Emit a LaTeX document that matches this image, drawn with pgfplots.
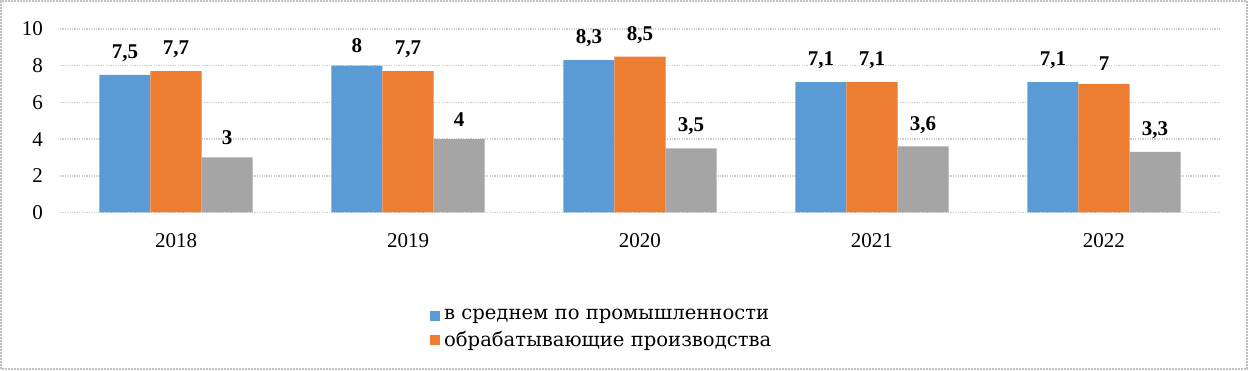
\documentclass[border=0pt]{standalone}
\usepackage{fontspec}
\setmainfont{Liberation Serif}
\newfontfamily\legfont{DejaVu Serif}
\usepackage{pgfplots}
\pgfplotsset{compat=1.18}
\definecolor{cblue}{HTML}{5B9BD5}
\definecolor{corange}{HTML}{ED7D31}
\definecolor{cgray}{HTML}{A5A5A5}
\begin{document}
\begin{tikzpicture}
\useasboundingbox (0,0) rectangle (624pt,185pt);
\draw[gray!50, line width=1pt, dash pattern=on 1pt off 0.5pt] (0.5pt,0.5pt) rectangle (623.5pt,184.5pt);
\begin{axis}[
  at={(30pt,78.75pt)}, anchor=south west,
  scale only axis, width=580pt, height=91.75pt,
  ybar=0pt, bar width=0.22,
  xmin=-0.5, xmax=4.5, ymin=0, ymax=10,
  axis line style={draw=none},
  xtick={0,1,2,3,4}, xticklabels={2018,2019,2020,2021,2022},
  ytick={0,2,4,6,8,10},
  ymajorgrids, grid style={gray!40, line width=0.8pt, dash pattern=on 0.6pt off 0.6pt},
  major tick length=0pt,
  tick label style={font=\fontsize{10.5}{12}\selectfont},
  /pgf/number format/assume math mode=true,
  yticklabel style={xshift=-5pt},
  xticklabel style={yshift=-7pt},
  nodes near coords,
  nodes near coords style={font=\bfseries\fontsize{10.5}{12}\selectfont, yshift=3pt, /pgf/number format/use comma, /pgf/number format/assume math mode=true},
  legend style={at={(0.317,-0.49)}, anchor=north west, draw=none, font=\legfont\fontsize{9.8}{13.5}\selectfont, row sep=0.5pt, inner sep=1pt},
  legend cell align=left,
  legend image code/.code={\fill[#1] (0pt,-2.5pt) rectangle (5pt,2.5pt);},
]
\addplot[fill=cblue, draw=none] coordinates {(0,7.5) (1,8) (2,8.3) (3,7.1) (4,7.1)};
\addplot[fill=corange, draw=none] coordinates {(0,7.7) (1,7.7) (2,8.5) (3,7.1) (4,7)};
\addplot[fill=cgray, draw=none] coordinates {(0,3) (1,4) (2,3.5) (3,3.6) (4,3.3)};
\legend{в среднем по промышленности, обрабатывающие производства}
\end{axis}
\end{tikzpicture}
\end{document}
